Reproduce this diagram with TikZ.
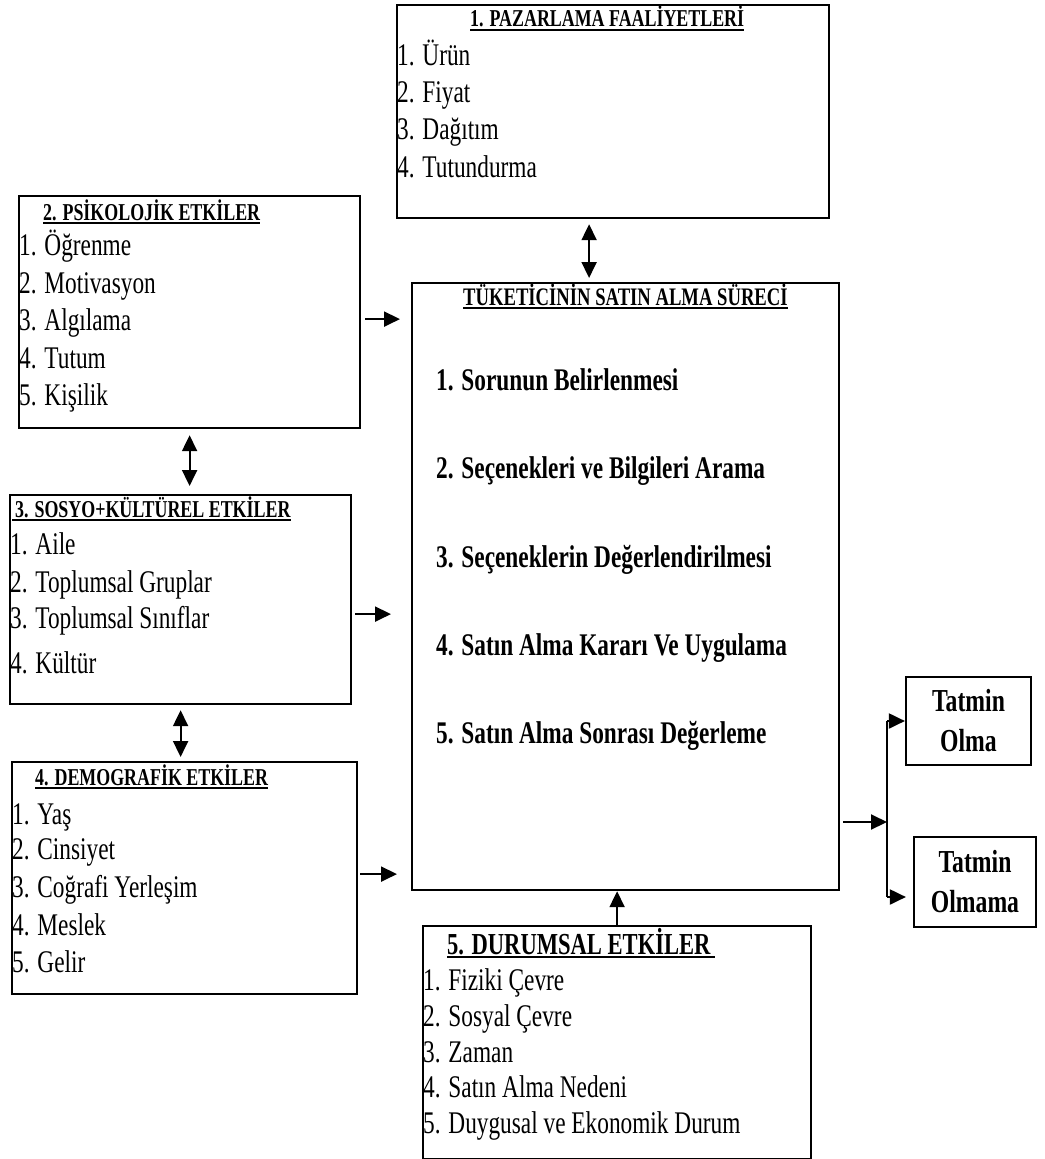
\documentclass[tikz,border=0pt]{standalone}
\usepackage{fontspec}
\setmainfont{Liberation Serif}[FakeStretch=0.74]
\usetikzlibrary{arrows.meta,calc}
\begin{document}
\begin{tikzpicture}[x=1pt,y=-1pt,
  box/.style={draw, line width=2.2pt, inner sep=0pt, anchor=north west},
  rbox/.style={draw, line width=2.2pt, inner sep=0pt, align=center, font=\fontsize{32}{40}\selectfont\bfseries},
  itm/.style={anchor=base west, inner sep=0pt, font=\fontsize{31.5}{36}\selectfont},
  bitm/.style={anchor=base west, inner sep=0pt, font=\fontsize{31.5}{36}\selectfont\bfseries},
  ttl/.style={anchor=base west, inner sep=0pt, font=\fontsize{24.2}{28}\selectfont\bfseries},
  uline/.style={line width=1.6pt},
  arr/.style={-{Triangle[length=16pt,width=15pt]}, line width=2pt},
  dbl/.style={{Triangle[length=16pt,width=15pt]}-{Triangle[length=16pt,width=15pt]}, line width=2pt},
  plain/.style={line width=2pt}
]
\useasboundingbox[fill=white] (0,0) rectangle (1044,1159);

% boxes
\node[box, minimum width=432pt, minimum height=213pt] (paz) at (396,4) {};
\node[box, minimum width=341pt, minimum height=232pt] (psik) at (18,195) {};
\node[box, minimum width=341pt, minimum height=209pt] (sosyo) at (9,494) {};
\node[box, minimum width=345pt, minimum height=232pt] (demo) at (11,761) {};
\node[box, minimum width=427pt, minimum height=607pt] (proc) at (411,282) {};
\node[box, minimum width=388pt, minimum height=233pt] (dur) at (422,925) {};
\node[rbox, minimum width=125pt, minimum height=88pt] (olma) at (968.5,721) {Tatmin\\Olma};
\node[rbox, minimum width=122pt, minimum height=90pt] (olmama) at (975,882) {Tatmin\\Olmama};

% 1. Pazarlama
\node[ttl] (pazt) at (470,27) {1. PAZARLAMA FAALİYETLERİ};
\draw[uline] ([yshift=-3pt]pazt.base west) -- ([yshift=-3pt]pazt.base east);
\node[itm] (paz1) at (397,65) {1. Ürün};
\node[itm] (paz2) at (397,102) {2. Fiyat};
\node[itm] (paz3) at (397,139) {3. Dağıtım};
\node[itm] (paz4) at (397,177) {4. Tutundurma};

% 2. Psikolojik
\node[ttl] (psikt) at (43,220) {2. PSİKOLOJİK ETKİLER};
\draw[uline] ([yshift=-3pt]psikt.base west) -- ([yshift=-3pt]psikt.base east);
\node[itm] (psik1) at (19,255) {1. Öğrenme};
\node[itm] (psik2) at (19,293) {2. Motivasyon};
\node[itm] (psik3) at (19,330) {3. Algılama};
\node[itm] (psik4) at (19,368) {4. Tutum};
\node[itm] (psik5) at (19,405) {5. Kişilik};

% 3. Sosyo
\node[ttl] (sosyot) at (15,517) {3. SOSYO+KÜLTÜREL ETKİLER};
\draw[uline] ([yshift=-3pt,xshift=-3pt]sosyot.base west) -- ([yshift=-3pt]sosyot.base east);
\node[itm] (sosyo1) at (10,554) {1. Aile};
\node[itm] (sosyo2) at (10,592) {2. Toplumsal Gruplar};
\node[itm] (sosyo3) at (10,628) {3. Toplumsal Sınıflar};
\node[itm] (sosyo4) at (10,673) {4. Kültür};

% 4. Demografik
\node[ttl] (demot) at (35,785) {4. DEMOGRAFİK ETKİLER};
\draw[uline] ([yshift=-3pt]demot.base west) -- ([yshift=-3pt]demot.base east);
\node[itm] (demo1) at (12,824) {1. Yaş};
\node[itm] (demo2) at (12,859) {2. Cinsiyet};
\node[itm] (demo3) at (12,897) {3. Coğrafi Yerleşim};
\node[itm] (demo4) at (12,935) {4. Meslek};
\node[itm] (demo5) at (12,972) {5. Gelir};

% Process
\node[ttl, font=\fontsize{25.2}{28}\selectfont\bfseries] (proct) at (463,305) {TÜKETİCİNİN SATIN ALMA SÜRECİ};
\draw[uline] ([yshift=-3pt]proct.base west) -- ([yshift=-3pt]proct.base east);
\node[bitm] (proc1) at (436,390) {1. Sorunun Belirlenmesi};
\node[bitm] (proc2) at (436,478) {2. Seçenekleri ve Bilgileri Arama};
\node[bitm] (proc3) at (436,567) {3. Seçeneklerin Değerlendirilmesi};
\node[bitm] (proc4) at (436,655) {4. Satın Alma Kararı Ve Uygulama};
\node[bitm] (proc5) at (436,743) {5. Satın Alma Sonrası Değerleme};

% 5. Durumsal
\node[ttl, font=\fontsize{30.5}{34}\selectfont\bfseries] (durt) at (447,954) {5. DURUMSAL ETKİLER};
\draw[uline] ([yshift=-3pt]durt.base west) -- ([yshift=-3pt,xshift=4pt]durt.base east);
\node[itm] (dur1) at (423,990) {1. Fiziki Çevre};
\node[itm] (dur2) at (423,1026) {2. Sosyal Çevre};
\node[itm] (dur3) at (423,1062) {3. Zaman};
\node[itm] (dur4) at (423,1097) {4. Satın Alma Nedeni};
\node[itm] (dur5) at (423,1133) {5. Duygusal ve Ekonomik Durum};

% connectors
\draw[dbl, shorten <=5pt, shorten >=4pt] ([xshift=-24pt]paz.south) -- ([xshift=-24pt]paz.south |- proc.north);
\draw[dbl, shorten <=6pt, shorten >=8pt] (psik.south) -- (psik.south |- sosyo.north);
\draw[dbl, shorten <=5pt, shorten >=4pt] (sosyo.south) -- (sosyo.south |- demo.north);
\draw[arr, shorten <=4pt, shorten >=11pt] ([yshift=-7pt]psik.east) -- ([yshift=-7pt]psik.east -| proc.west);
\draw[arr, shorten <=3pt, shorten >=20pt] ([yshift=-14.5pt]sosyo.east) -- ([yshift=-14.5pt]sosyo.east -| proc.west);
\draw[arr, shorten <=2pt, shorten >=14pt] ([yshift=4pt]demo.east) -- ([yshift=4pt]demo.east -| proc.west);
\draw[arr] (dur.north) -- (dur.north |- proc.south);

\coordinate (split) at (887,822);
\draw[arr, shorten <=3pt] (proc.east |- split) -- (split);
\draw[plain] (olma.west -| split) -- ([yshift=-15pt]olmama.west -| split);
\draw[arr] (olma.west -| split) -- (olma.west);
\draw[arr, shorten >=7pt] ([yshift=-15pt]olmama.west -| split) -- ([yshift=-15pt]olmama.west);
\end{tikzpicture}
\end{document}
